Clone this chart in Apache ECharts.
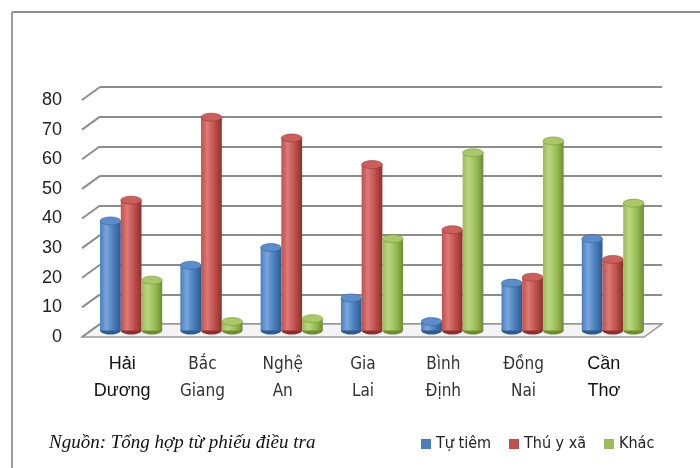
<!DOCTYPE html>
<html>
<head>
<meta charset="utf-8">
<script src="https://cdn.jsdelivr.net/npm/echarts@6/dist/echarts.min.js"></script>
<style>
  html, body { margin: 0; padding: 0; background: #fff; }
  #chart { width: 700px; height: 468px; }
</style>
</head>
<body>
<div id="chart"></div>
<script>
// data
const provinces = ['Hải\nDương', 'Bắc\nGiang', 'Nghệ\nAn', 'Gia\nLai', 'Bình\nĐịnh', 'Đồng\nNai', 'Cần\nThơ']
const tuTiem = [37, 22, 28, 11, 3, 16, 31]
const thuYXa = [44, 72, 65, 56, 34, 18, 24]
const khac = [17, 3, 4, 31, 60, 64, 43]
const yTicks = [0, 10, 20, 30, 40, 50, 60, 70, 80]

const seriesNames = ['Tự tiêm', 'Thú y xã', 'Khác']
const seriesData = [tuTiem, thuYXa, khac]
const palette = [
  { base: '#4a7ebb', light: '#79a5dc', dark: '#2c5a92', top: '#5b8dcb' },
  { base: '#c0504d', light: '#db7a77', dark: '#8e2f2c', top: '#cc5e5b' },
  { base: '#9bbb59', light: '#bad67f', dark: '#6e8d33', top: '#a9c866' }
]

// depth of the fake 3D box (back wall -> front edge)
const depthX = -18
const depthY = 13

const chart = echarts.init(document.getElementById('chart'))

function cylinder(j) {
  return function (params, api) {
    const i = api.value(0)
    const v = api.value(1)
    const base = api.coord([i, 0])
    const top = api.coord([i, v])
    const band = api.size([1, 0])[0]
    const w = band * 0.258
    const x0 = base[0] - 1.5 * w + j * w
    const cx = x0 + w / 2
    const c = palette[j]
    const grad = new echarts.graphic.LinearGradient(0, 0, 1, 0, [
      { offset: 0, color: c.base },
      { offset: 0.3, color: c.light },
      { offset: 0.65, color: c.base },
      { offset: 1, color: c.dark }
    ])
    return {
      type: 'group',
      children: [
        { type: 'ellipse', shape: { cx: cx, cy: base[1], rx: w / 2, ry: 4 }, style: { fill: c.dark } },
        { type: 'rect', shape: { x: x0, y: top[1], width: w, height: base[1] - top[1] }, style: { fill: grad } },
        { type: 'ellipse', shape: { cx: cx, cy: top[1], rx: w / 2, ry: 4 }, style: { fill: c.top, stroke: c.dark, lineWidth: 0.5 } }
      ]
    }
  }
}

const barSeries = seriesNames.map((name, j) => ({
  name: name,
  type: 'custom',
  xAxisIndex: 2,
  yAxisIndex: 2,
  z: 5,
  itemStyle: { color: palette[j].base },
  renderItem: cylinder(j),
  encode: { x: 0, y: 1 },
  data: seriesData[j].map((v, i) => [i, v])
}))

const narrow = "'DejaVu Sans Condensed', Roboto, sans-serif"

const option = {
  animation: false,
  backgroundColor: '#ffffff',
  title: {
    text: 'Nguồn: Tổng hợp từ phiếu điều tra',
    left: 44,
    top: 428,
    textStyle: { fontFamily: 'Liberation Serif', fontStyle: 'italic', fontWeight: 'normal', fontSize: 19, color: '#111' }
  },
  legend: {
    data: seriesNames,
    left: 416,
    top: 431,
    icon: 'rect',
    itemWidth: 10,
    itemHeight: 10,
    itemGap: 18,
    textStyle: { fontFamily: narrow, fontSize: 16, color: '#222' }
  },
  graphic: [
    { type: 'line', shape: { x1: 12, y1: 12, x2: 700, y2: 12 }, style: { stroke: '#8e8e8e', lineWidth: 2 } },
    { type: 'line', shape: { x1: 12, y1: 12, x2: 12, y2: 468 }, style: { stroke: '#9a9a9a', lineWidth: 2 } }
  ],
  grid: [
    { left: 100, right: 38, top: 87, height: 237 },  // back wall
    { left: 82, right: 56, top: 100, height: 237 },  // front plane
    { left: 91, right: 47, top: 93.5, height: 237 }  // middle, where bars stand
  ],
  xAxis: [
    { gridIndex: 0, type: 'value', min: 0, max: 7, show: false },
    {
      gridIndex: 1,
      type: 'category',
      data: provinces,
      axisLine: { show: false },
      axisTick: { show: false },
      axisLabel: {
        margin: 14,
        interval: 0,
        formatter: (val, idx) => (idx === 0 || idx === 6) ? '{b|' + val + '}' : '{n|' + val + '}',
        rich: {
          b: { fontFamily: 'Liberation Sans', fontSize: 18, lineHeight: 27, color: '#111', align: 'center' },
          n: { fontFamily: narrow, fontSize: 17, lineHeight: 27, color: '#333', align: 'center' }
        }
      }
    },
    { gridIndex: 2, type: 'category', data: provinces, show: false }
  ],
  yAxis: [
    {
      gridIndex: 0, type: 'value', min: 0, max: 80, interval: 10,
      axisLine: { show: false }, axisTick: { show: false }, axisLabel: { show: false },
      splitLine: { show: true, lineStyle: { color: '#8c8c8c', width: 2 } }
    },
    {
      gridIndex: 1, type: 'value', min: 0, max: 80, interval: 10,
      axisLine: { show: false }, axisTick: { show: false }, splitLine: { show: false },
      axisLabel: { margin: 20, fontFamily: 'Liberation Sans', fontSize: 18, color: '#222' }
    },
    { gridIndex: 2, type: 'value', min: 0, max: 80, show: false }
  ],
  series: [
    {
      // left side wall lines and the floor
      type: 'custom',
      xAxisIndex: 0,
      yAxisIndex: 0,
      z: 1,
      silent: true,
      encode: { x: 0, y: 1 },
      data: yTicks.map(v => [0, v]),
      renderItem: (params, api) => {
        const p = api.coord([0, api.value(1)])
        const kids = [
          { type: 'line', shape: { x1: p[0], y1: p[1], x2: p[0] + depthX, y2: p[1] + depthY }, style: { stroke: '#8c8c8c', lineWidth: 2 } }
        ]
        if (api.value(1) === 0) {
          const q = api.coord([7, 0])
          kids.unshift({
            type: 'polygon',
            shape: { points: [[p[0], p[1]], [q[0], q[1]], [q[0] + depthX, q[1] + depthY], [p[0] + depthX, p[1] + depthY]] },
            style: { fill: '#f4f4f4', stroke: '#9a9a9a', lineWidth: 1.5 }
          })
        }
        return { type: 'group', children: kids }
      }
    }
  ].concat(barSeries)
}

chart.setOption(option)
</script>
</body>
</html>
